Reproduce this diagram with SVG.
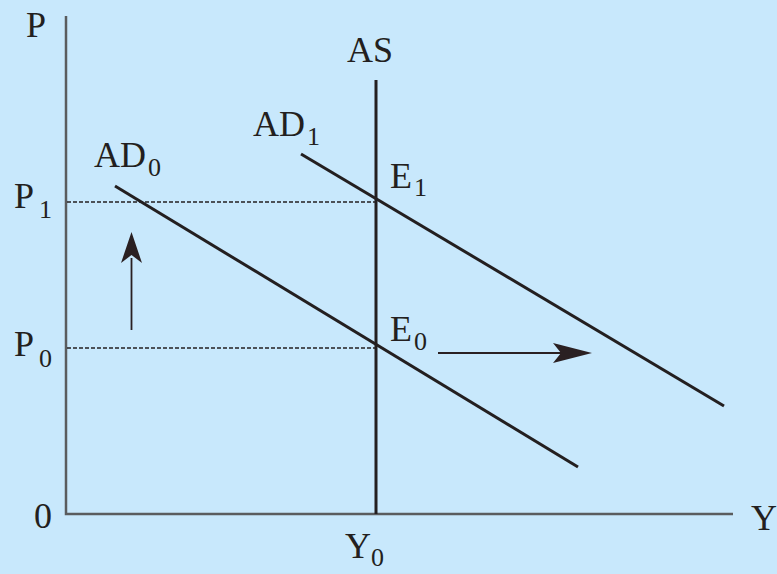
<svg xmlns="http://www.w3.org/2000/svg" width="777" height="574" viewBox="0 0 777 574">
<style>
.t{font-family:"Liberation Serif","Times New Roman",serif;font-size:36px;fill:#231f20}
.s{font-size:26px}
.ax{stroke:#5a5c5e;stroke-width:2.5;fill:none}
.cv{stroke:#231f20;stroke-width:3;fill:none}
.ds{stroke:#231f20;stroke-width:1.4;stroke-dasharray:4 2;fill:none}
.ar{stroke:#2a2022;stroke-width:1.8;fill:none}
.hd{fill:#2a2022}
</style>
<rect width="777" height="574" fill="#c8e8fc"/>
<g id="axes">
<path class="ax" d="M66,16 V514 H733"/>
</g>
<g id="connectors">
<path class="ds" d="M67,202 H376"/>
<path class="ds" d="M67,348 H376"/>
<path class="cv" d="M376,80 V514"/>
<path class="cv" d="M301,154 L724,406"/>
<path class="cv" d="M115,186 L578,467"/>
<path class="ar" d="M131.5,330 V258"/>
<path class="hd" d="M131.5,232 L142,263 L131.5,255 L121,263 Z"/>
<path class="ar" d="M438,353 H562"/>
<path class="hd" d="M592,353 L553,343 L561,353 L553,363 Z"/>
</g>
<g id="labels">
<text class="t" x="26" y="37">P</text>
<text class="t" x="14" y="208">P<tspan class="s" x="39" y="218">1</tspan></text>
<text class="t" x="14" y="356">P<tspan class="s" x="39" y="367">0</tspan></text>
<text class="t" x="34" y="528">0</text>
<text class="t" x="751" y="530">Y</text>
<text class="t" x="345" y="558">Y<tspan class="s" x="371" y="566">0</tspan></text>
<text class="t" x="347" y="62">AS</text>
<text class="t" x="253" y="136">AD<tspan class="s" x="307" y="145">1</tspan></text>
<text class="t" x="94" y="167">AD<tspan class="s" x="148" y="176">0</tspan></text>
<text class="t" x="390" y="188">E<tspan class="s" x="414" y="196">1</tspan></text>
<text class="t" x="390" y="341">E<tspan class="s" x="414" y="350">0</tspan></text>
</g>
</svg>
